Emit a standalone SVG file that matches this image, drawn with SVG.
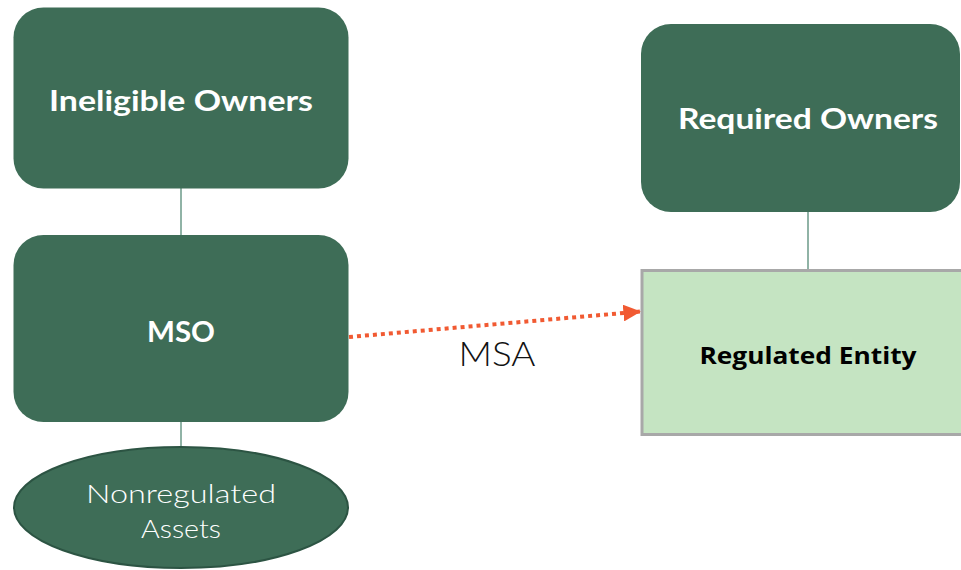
<svg xmlns="http://www.w3.org/2000/svg" width="961" height="570" viewBox="0 0 961 570">
  <style>
    .box { fill: #3e6d57; }
    .link { stroke: #6b9a88; stroke-width: 1.5; fill: none; }
    .title { font-family: Lato, "Open Sans", sans-serif; font-weight: bold; fill: #ffffff; text-anchor: middle; }
    .light { font-family: Lato, "Open Sans", sans-serif; font-weight: 300; text-anchor: middle; }
  </style>
  <defs>
    <marker id="arrowHead" markerWidth="4.4" markerHeight="4.2" refX="4.4" refY="2.1" orient="auto" markerUnits="strokeWidth">
      <path d="M0,0 L4.4,2.1 L0,4.2 Z" fill="#f15a32"/>
    </marker>
  </defs>
  <rect width="961" height="570" fill="#ffffff"/>

  <g id="connectors">
    <line class="link" x1="181" y1="188" x2="181" y2="235"/>
    <line class="link" x1="181" y1="422" x2="181" y2="448"/>
    <line class="link" x1="808" y1="212" x2="808" y2="270"/>
    <line x1="349" y1="337" x2="641" y2="311.5" stroke="#f15a32" stroke-width="4" stroke-dasharray="4 4" marker-end="url(#arrowHead)"/>
    <text class="light" x="497" y="366" font-size="33" fill="#111111" textLength="77" lengthAdjust="spacingAndGlyphs">MSA</text>
  </g>

  <g id="ineligible-owners">
    <rect class="box" x="13.5" y="7.5" width="335" height="181" rx="30"/>
    <text class="title" x="181" y="111" font-size="28" textLength="264" lengthAdjust="spacingAndGlyphs">Ineligible Owners</text>
  </g>

  <g id="mso">
    <rect class="box" x="13.5" y="235" width="335" height="187" rx="30"/>
    <text class="title" x="181" y="342" font-size="29" textLength="68" lengthAdjust="spacingAndGlyphs">MSO</text>
  </g>

  <g id="nonregulated-assets">
    <ellipse cx="181" cy="507.5" rx="167" ry="60.5" fill="#3e6d57" stroke="#2c5443" stroke-width="2"/>
    <text class="light" x="181" y="503" font-size="26" fill="#ffffff" textLength="190" lengthAdjust="spacingAndGlyphs">Nonregulated</text>
    <text class="light" x="181" y="538" font-size="26" fill="#ffffff" textLength="80" lengthAdjust="spacingAndGlyphs">Assets</text>
  </g>

  <g id="required-owners">
    <rect class="box" x="641" y="24" width="319" height="188" rx="30"/>
    <text class="title" x="808" y="129" font-size="28" textLength="260" lengthAdjust="spacingAndGlyphs">Required Owners</text>
  </g>

  <g id="regulated-entity">
    <rect x="642" y="270.5" width="330" height="164" fill="#c5e4c2" stroke="#a8a8a8" stroke-width="3"/>
    <text x="808" y="364" font-family="'Open Sans', 'Liberation Sans', sans-serif" font-weight="bold" font-size="23" fill="#000000" text-anchor="middle" textLength="217" lengthAdjust="spacingAndGlyphs">Regulated Entity</text>
  </g>
</svg>
